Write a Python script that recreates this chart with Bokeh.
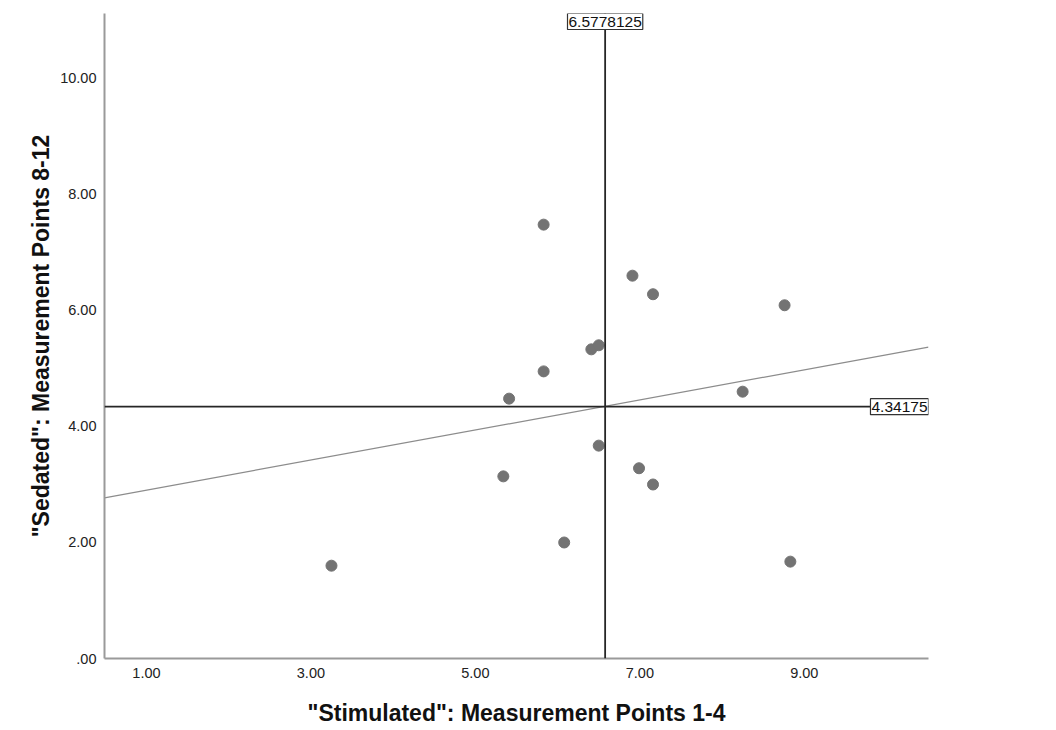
import numpy as np
from bokeh.plotting import figure
from bokeh.models import Range1d, FixedTicker, Span, Label
from bokeh.embed import file_html
from bokeh.resources import INLINE

# Per-subject scores for the two conditions
stimulated = [3.25, 5.83, 6.91, 7.16, 8.76, 6.41, 6.50, 5.83, 8.25, 5.41, 6.50, 5.34, 6.99, 7.16, 6.08, 8.83]
sedated = [1.60, 7.48, 6.60, 6.28, 6.09, 5.33, 5.40, 4.95, 4.60, 4.48, 3.67, 3.14, 3.28, 3.00, 2.00, 1.67]

# Reference lines at the group means and the fit statistic
x_mean = 6.5778125
y_mean = 4.34175
r2_linear = 0.039

x_ticks = [1, 3, 5, 7, 9]
y_ticks = [0, 2, 4, 6, 8, 10]

X_START, X_END = 0.49, 10.51
Y_START, Y_END = 0.0, 11.12

FONT = "Liberation Sans"


def spss_fmt(v):
    # SPSS style: two decimals, no leading zero
    return f"{v:.2f}".lstrip("0") if v < 1 else f"{v:.2f}"


p = figure(width=1056, height=730, output_backend="svg", toolbar_location=None,
           x_range=Range1d(X_START, X_END), y_range=Range1d(Y_START, Y_END),
           min_border_left=104, min_border_right=128,
           min_border_top=13, min_border_bottom=72)
p.outline_line_color = None
p.grid.visible = False
p.background_fill_color = "white"
p.border_fill_color = "white"

for ax in (p.xaxis[0], p.yaxis[0]):
    ax.axis_line_color = "#9a9a9a"
    ax.axis_line_width = 2
    ax.major_tick_line_color = None
    ax.minor_tick_line_color = None
    ax.major_tick_out = 0
    ax.major_tick_in = 0
    ax.major_label_text_font = FONT
    ax.major_label_text_font_size = "14.5px"
    ax.major_label_text_color = "#222222"
    ax.axis_label_text_font = FONT
    ax.axis_label_text_font_style = "bold"
    ax.axis_label_text_font_size = "23px"
    ax.axis_label_text_color = "#111111"

p.xaxis.ticker = FixedTicker(ticks=x_ticks)
p.xaxis.major_label_overrides = {t: spss_fmt(t) for t in x_ticks}
p.xaxis.major_label_standoff = 9
p.xaxis.axis_label = '"Stimulated": Measurement Points 1-4'
p.xaxis.axis_label_standoff = 19

p.yaxis.ticker = FixedTicker(ticks=y_ticks)
p.yaxis.major_label_overrides = {t: spss_fmt(t) for t in y_ticks}
p.yaxis.major_label_standoff = 8
p.yaxis.axis_label = '"Sedated": Measurement Points 8-12'
p.yaxis.axis_label_standoff = 3

# Linear fit line across the whole x range
slope, intercept = np.polyfit(stimulated, sedated, 1)
fit_x = [X_START, X_END]
fit_y = [intercept + slope * v for v in fit_x]
p.line(fit_x, fit_y, line_color="#8c8c8c", line_width=1.2)

p.scatter(stimulated, sedated, size=11, fill_color="#737373", line_color="#737373")

# Mean reference lines
p.add_layout(Span(location=x_mean, dimension="height", line_color="#262626", line_width=1.8))
p.add_layout(Span(location=y_mean, dimension="width", line_color="#262626", line_width=1.8))

box_style = dict(text_font=FONT, text_font_size="15.5px", text_color="#111111",
                 background_fill_color="white", border_line_color="#333333",
                 border_line_width=1.2,
                 padding=dict(left=1, right=1, top=3, bottom=3))
p.add_layout(Label(x=x_mean, y=Y_END, text=f"{x_mean}", text_align="center",
                   text_baseline="top", **box_style))
p.add_layout(Label(x=X_END, y=y_mean, text=f"{y_mean}", text_align="right",
                   text_baseline="middle", **box_style))

# Fit statistic in the upper right corner
p.add_layout(Label(x=1044 - 104, y=658 - 17, x_units="screen", y_units="screen",
                   text=f"R\u00b2 Linear = {r2_linear}", text_align="right",
                   text_baseline="middle", text_font=FONT, text_font_size="13.5px",
                   text_color="#8a8a8a"))

open("out.html", "w").write(file_html(p, INLINE))
